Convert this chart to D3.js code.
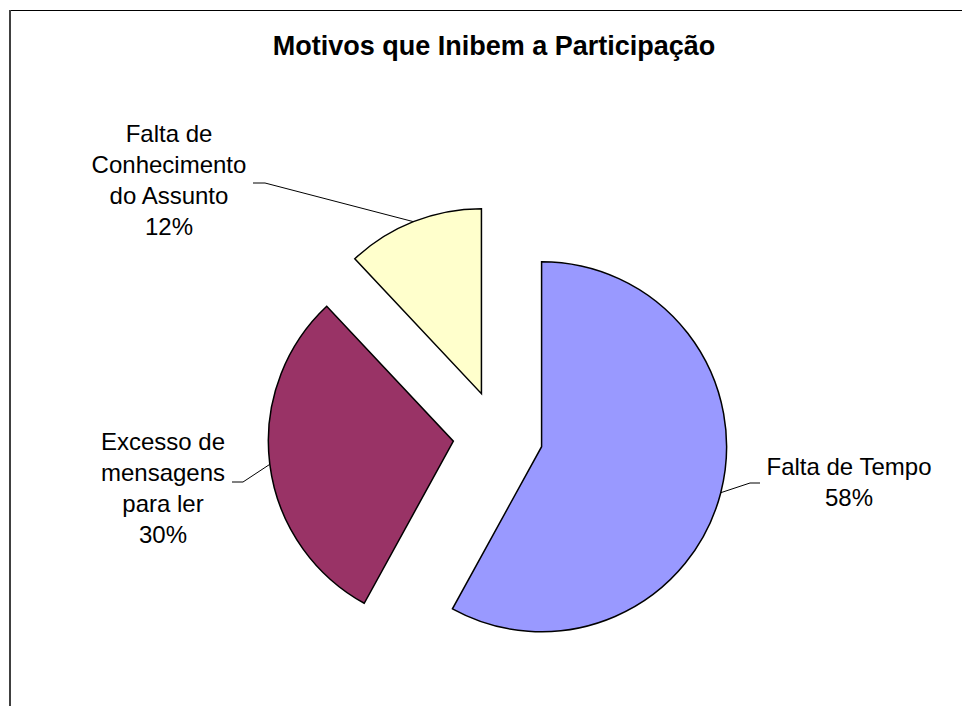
<!DOCTYPE html>
<html>
<head>
<meta charset="utf-8">
<script src="https://cdn.jsdelivr.net/npm/d3@7/dist/d3.min.js"></script>
<style>
  body { margin: 0; background: #fff; }
  svg { display: block; }
  .slice { stroke: #000; stroke-width: 1.5; stroke-linejoin: miter; }
  .leader { fill: none; stroke: #000; stroke-width: 1; }
  .label { font-family: "Liberation Sans", Arial, sans-serif; font-size: 24px; fill: #000; }
  .title { font-family: "Liberation Sans", Arial, sans-serif; font-size: 27px; font-weight: bold; fill: #000; }
</style>
</head>
<body>
<script>
var WIDTH = 962;
var HEIGHT = 706;

// data
var categories = ['Falta de Tempo', 'Excesso de mensagens para ler', 'Falta de Conhecimento do Assunto'];
var values = [58, 30, 12];
var colors = ['#9999FF', '#993366', '#FFFFCC'];
var labelLines = [['Falta de Tempo'], ['Excesso de', 'mensagens', 'para ler'], ['Falta de', 'Conhecimento', 'do Assunto']];

// layout (pixels)
var CENTER = [498, 435.5];
var RADIUS = 185;
var EXPLODE = 45;
var LINE_HEIGHT = 31;
var labelLayout = [
    { cx: 849, baseline: 475, elbow: [750, 483], tick: [760, 483] },
    { cx: 163, baseline: 450, elbow: [243, 482], tick: [232, 482] },
    { cx: 169, baseline: 142, elbow: [265, 183], tick: [253, 183] }
];

var total = d3.sum(values);
var pct = d3.format('.0%');

var svg = d3.select('body').append('svg')
    .attr('width', WIDTH)
    .attr('height', HEIGHT);

// chart area border (runs off the right and bottom edges)
svg.append('line')
    .attr('x1', 10).attr('y1', 10.5).attr('x2', WIDTH).attr('y2', 10.5)
    .attr('stroke', '#000').attr('stroke-width', 1);
svg.append('line')
    .attr('x1', 10).attr('y1', 10).attr('x2', 10).attr('y2', HEIGHT)
    .attr('stroke', '#404040').attr('stroke-width', 2);

svg.append('text')
    .attr('class', 'title')
    .attr('x', 494)
    .attr('y', 55)
    .attr('text-anchor', 'middle')
    .text('Motivos que Inibem a Participação');

var pie = d3.pie()
    .sort(null)
    .value(function (d) { return d; });

var arc = d3.arc()
    .innerRadius(0)
    .outerRadius(RADIUS);

var arcs = pie(values);

var midAngle = function (d) { return (d.startAngle + d.endAngle) / 2; };

// each slice pulled out along its own mid angle
var sliceOffset = function (d) {
    var a = midAngle(d);
    return [CENTER[0] + Math.sin(a) * EXPLODE, CENTER[1] - Math.cos(a) * EXPLODE];
};

var slices = svg.selectAll('g.slice-group')
    .data(arcs)
    .enter()
    .append('g')
    .attr('class', 'slice-group')
    .attr('transform', function (d) {
        var o = sliceOffset(d);
        return 'translate(' + o[0] + ',' + o[1] + ')';
    });

slices.append('path')
    .attr('class', 'slice')
    .attr('d', arc)
    .style('fill', function (d, i) { return colors[i]; });

// leader lines: from the arc edge at mid angle to the label
svg.selectAll('polyline.leader')
    .data(arcs)
    .enter()
    .append('polyline')
    .attr('class', 'leader')
    .attr('points', function (d, i) {
        var o = sliceOffset(d);
        var a = midAngle(d);
        var p = [o[0] + Math.sin(a) * RADIUS, o[1] - Math.cos(a) * RADIUS];
        var L = labelLayout[i];
        return [p, L.elbow, L.tick].map(function (q) { return q.join(','); }).join(' ');
    });

var labels = svg.selectAll('text.label')
    .data(arcs)
    .enter()
    .append('text')
    .attr('class', 'label')
    .attr('text-anchor', 'middle');

labels.each(function (d, i) {
    var L = labelLayout[i];
    var lines = labelLines[i].concat([pct(d.data / total)]);
    d3.select(this).selectAll('tspan')
        .data(lines)
        .enter()
        .append('tspan')
        .attr('x', L.cx)
        .attr('y', function (t, j) { return L.baseline + j * LINE_HEIGHT; })
        .text(function (t) { return t; });
});
</script>
</body>
</html>
